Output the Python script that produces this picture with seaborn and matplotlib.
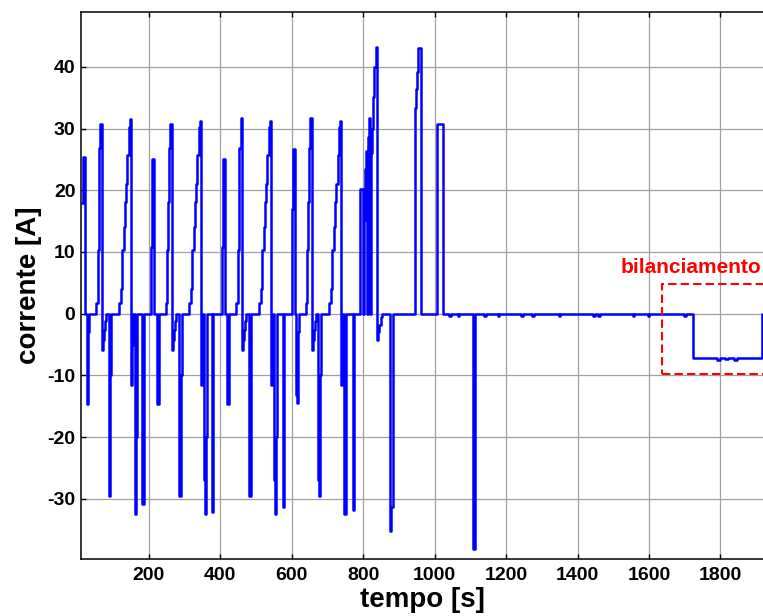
import numpy as np
import pandas as pd
import matplotlib
matplotlib.use('Agg')
import matplotlib.pyplot as plt
import seaborn as sns
from matplotlib.patches import Rectangle

# current profile, stored as step breakpoints (time [s], current [A])
t_cycle1 = [10, 15, 21, 25.5, 27, 30.5, 32, 53, 57, 59, 61.5, 64.5, 69, 71, 73.5, 76.5, 79,
            87.5, 88.5, 92, 94, 117, 122, 125, 129, 133, 137, 140, 143, 146, 150, 152.5, 155,
            161, 162, 165, 166.5, 181.5, 185]
i_cycle1 = [18, 25.4, 0, -13.3, -14.6, -3, 0, 1.7, 10.3, 18.1, 26.9, 30.8, -5.9, -4.2, -2.6, -1.2, 0,
            -27, -29.5, -10, 0, 1.7, 4, 10.3, 14, 18.1, 21, 25.7, 30.3, 31.5, -11.6, -5, 0,
            -27, -32.5, -20, 0, -30.8, 0]

t_cycle2 = [207, 209, 214, 221.5, 223, 227.5, 229, 248, 252, 254, 256.5, 259.5, 265, 267, 269.5, 272.5, 275,
            284.5, 285.5, 289.5, 291.5, 313, 318, 321, 325, 329, 333, 336, 339, 342, 346, 348.5, 351,
            355.5, 356.5, 360, 361.5, 376.5, 380.5]
i_cycle2 = [10.8, 25.1, 0, -13.3, -14.6, -3, 0, 1.7, 10.3, 18.1, 26.9, 30.8, -5.9, -4.2, -2.6, -1.2, 0,
            -27, -29.5, -10, 0, 1.7, 4, 10.3, 14, 18.1, 21, 25.7, 30.3, 31.3, -11.6, -5, 0,
            -27, -32.5, -20, 0, -32.1, 0]

t_cycle3 = [406, 408, 412.5, 417.5, 419, 423, 424.5, 444, 449, 451, 453.5, 456.5, 461.5, 463.5, 466, 469, 471.5,
            479.5, 480.5, 484.5, 486.5, 509, 514, 517, 521, 525, 529, 532, 535, 538, 542, 544.5, 547,
            551.5, 552.5, 556, 557.5, 574.5, 578.5]
i_cycle3 = [10.8, 25.1, 0, -13.3, -14.6, -3, 0, 1.7, 10.3, 18.1, 26.9, 31.7, -5.9, -4.2, -2.6, -1.2, 0,
            -27, -29.5, -10, 0, 1.7, 4, 10.3, 14, 18.1, 21, 25.7, 30.3, 31.3, -11.6, -5, 0,
            -27, -32.5, -20, 0, -31.4, 0]

t_cycle4 = [601, 603, 608, 612.5, 614, 618, 619.5, 639, 644, 646, 648.5, 651.5, 656.5, 658.5, 661, 664, 666.5,
            674, 675, 679, 681, 705, 710, 713, 717, 721, 725, 728, 731, 734, 738, 740.5, 743,
            746.5, 747.5, 751, 752.5, 770.5, 774.5]
i_cycle4 = [17, 26.7, 0, -13.1, -14.4, -3, 0, 1.7, 10.3, 18.1, 26.9, 31.8, -5.9, -4.2, -2.6, -1.2, 0,
            -27, -29.5, -10, 0, 1.7, 4, 10.3, 14, 18.1, 21, 25.7, 30.3, 31.2, -11.6, -5, 0,
            -27, -32.5, -20, 0, -31.8, 0]

t_burst = [790, 792, 799.5, 801, 804, 806, 808.5, 811, 812.5, 815, 820, 821.5, 824, 827, 831, 834.5,
           838.5, 841, 845, 849, 853, 875, 879, 883, 944, 947, 951, 954, 960.5, 1007, 1022]
i_burst = [7.6, 20.2, 0, 15.2, 20.5, 23.4, 26.3, 0, 28.7, 31.7, 0, 26, 30, 35.2, 40, 43.3,
           -4.3, -3, -1.8, -0.6, 0, -35.3, -31.3, 0, 33.3, 36.5, 39.2, 43.0, 0, 30.7, 0]

t_rest = [1041, 1046, 1064, 1069, 1108.5, 1113.5, 1138, 1143, 1176, 1181, 1241, 1246, 1273, 1278,
          1347, 1352, 1444, 1449, 1458, 1463, 1554, 1559, 1596, 1601, 1698, 1703,
          1722, 1790, 1800, 1812, 1822, 1838, 1845, 1915, 1925]
i_rest = [-0.4, 0, -0.4, 0, -38.2, 0, -0.4, 0, -0.4, 0, -0.4, 0, -0.4, 0,
          -0.4, 0, -0.4, 0, -0.4, 0, -0.4, 0, -0.4, 0, -0.4, 0,
          -7.2, -7.5, -7.2, -7.4, -7.2, -7.5, -7.2, 0, 0]

x_ticks = [200, 400, 600, 800, 1000, 1200, 1400, 1600, 1800]
y_ticks = [-30, -20, -10, 0, 10, 20, 30, 40]

# balancing window
bal_x0, bal_y0, bal_y1 = 1637, -9.7, 4.8
bal_label = 'bilanciamento'

df = pd.DataFrame({
    't': np.concatenate([t_cycle1, t_cycle2, t_cycle3, t_cycle4, t_burst, t_rest]),
    'i': np.concatenate([i_cycle1, i_cycle2, i_cycle3, i_cycle4, i_burst, i_rest]),
})

sns.set_theme(style='white')
plt.rcParams['font.family'] = ['Liberation Sans', 'DejaVu Sans']
plt.rcParams['font.weight'] = 'bold'
plt.rcParams['axes.unicode_minus'] = False
plt.rcParams['text.color'] = 'black'
plt.rcParams['axes.labelcolor'] = 'black'
plt.rcParams['xtick.color'] = 'black'
plt.rcParams['ytick.color'] = 'black'

fig = plt.figure(figsize=(7.63, 6.16), dpi=100)
ax = fig.add_axes([81 / 763, 1 - 559 / 616, 1 - 81 / 763, (559 - 12) / 616])

ax.grid(True, color='#a0a0a0', linewidth=0.9, linestyle='-')
ax.set_axisbelow(True)

sns.lineplot(data=df, x='t', y='i', drawstyle='steps-post', estimator=None, sort=False,
             color='#0000ff', linewidth=1.8, ax=ax, zorder=3)

ax.add_patch(Rectangle((bal_x0, bal_y0), 400, bal_y1 - bal_y0, fill=False, edgecolor='#ff0000',
                       linewidth=1.5, linestyle=(0, (4, 2)), zorder=4))
ax.text(1520, 6.6, bal_label, color='#ff0000', fontsize=15, fontweight='bold',
        ha='left', va='baseline', zorder=5)

ax.set_xlim(10, 1919)
ax.set_ylim(-39.76, 48.9)
ax.set_xticks(x_ticks)
ax.set_yticks(y_ticks)
ax.tick_params(direction='in', length=3.5, width=1, colors='black', labelsize=14,
               top=True, bottom=True, left=True, right=False)
ax.tick_params(axis='x', pad=6)
ax.tick_params(axis='y', pad=4)
for lab in ax.get_xticklabels() + ax.get_yticklabels():
    lab.set_fontweight('bold')
    lab.set_color('black')

for side in ['left', 'bottom', 'top']:
    ax.spines[side].set_color('black')
    ax.spines[side].set_linewidth(1.1)
ax.spines['right'].set_visible(False)

ax.set_xlabel('tempo [s]', fontsize=20, fontweight='bold', labelpad=2, color='black')
ax.set_ylabel('corrente [A]', fontsize=20, fontweight='bold', labelpad=4, color='black')

plt.savefig('out.png', dpi=100)
plt.close()
